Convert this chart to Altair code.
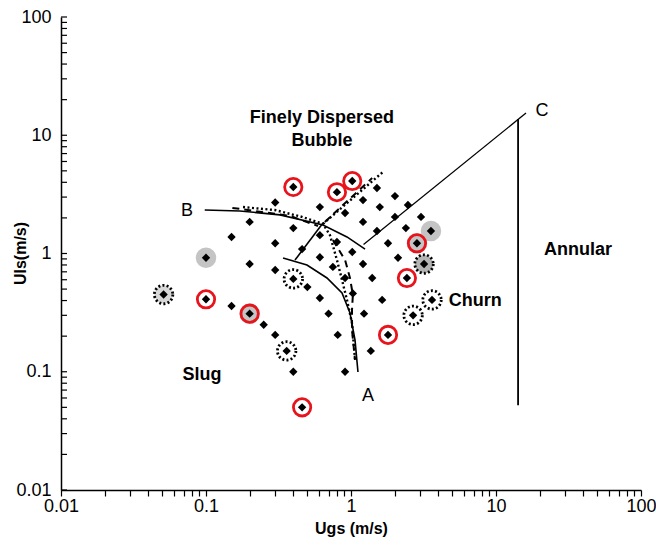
import altair as alt
import pandas as pd

# ---- measured points (Ugs, Uls) in m/s ----
pt_x = [0.10, 0.051, 0.10, 0.15, 0.20, 0.25, 0.30, 0.36, 0.40, 0.46,
        0.30, 0.40, 0.20, 0.15, 0.40, 0.30, 0.20, 0.30, 0.46, 0.40,
        0.50, 0.61, 0.61, 0.80, 1.02, 0.91, 0.61, 0.80, 0.61, 0.75,
        0.91, 0.70, 0.81, 0.91, 1.51, 2.01, 1.21, 1.58, 2.47, 2.01,
        1.21, 1.51, 2.39, 3.04, 3.56, 2.85, 1.80, 1.02, 1.21, 2.11,
        3.19, 1.40, 2.43, 1.03, 1.64, 1.23, 1.37, 1.80, 3.62, 2.68]
pt_y = [0.92, 0.45, 0.41, 0.36, 0.31, 0.25, 0.205, 0.15, 0.10, 0.05,
        2.7, 3.65, 1.85, 1.38, 1.64, 1.22, 0.815, 0.725, 1.09, 0.61,
        0.52, 0.42, 2.47, 3.3, 4.1, 2.2, 1.43, 1.25, 0.93, 0.77,
        0.62, 0.31, 0.205, 0.10, 3.58, 3.06, 2.83, 2.47, 2.57, 2.04,
        1.85, 1.55, 1.64, 2.04, 1.55, 1.22, 1.22, 1.03, 0.815, 0.92,
        0.815, 0.62, 0.62, 0.46, 0.405, 0.31, 0.15, 0.205, 0.405, 0.30]

red_x = [0.10, 0.20, 0.46, 0.40, 0.80, 1.02, 2.85, 2.43, 1.80]
red_y = [0.41, 0.31, 0.05, 3.65, 3.3, 4.1, 1.22, 0.62, 0.205]

gray_x = [0.10, 0.20, 3.56, 2.85]
gray_y = [0.92, 0.31, 1.55, 1.22]

ring_x = [0.051, 0.36, 0.40, 3.19, 3.62, 2.68]
ring_y = [0.45, 0.15, 0.61, 0.815, 0.405, 0.30]
ring_fill = ["#d8d8d8", "white", "white", "#b4b4b4", "white", "white"]

# ---- transition boundaries ----
solid_b_x = [0.098, 0.171, 0.324, 0.641, 0.938, 1.25]
solid_b_y = [2.33, 2.29, 2.12, 1.74, 1.38, 1.09]
solid_a_x = [0.340, 0.497, 0.683, 0.867, 0.984, 1.066, 1.117]
solid_a_y = [0.916, 0.80, 0.621, 0.463, 0.314, 0.185, 0.0995]
link_x = [0.411, 0.641]
link_y = [0.88, 1.81]
c_line_x = [1.22, 16.1]
c_line_y = [1.19, 15.4]
annular_x = [14.2, 14.2]
annular_y = [0.052, 13.7]

dotted1_x = [0.180, 0.299, 0.459, 0.641, 0.716, 0.80, 0.867, 0.938, 1.016, 1.066]
dotted1_y = [2.47, 2.33, 2.04, 1.78, 1.43, 0.88, 0.597, 0.405, 0.258, 0.126]
dotted2_x = [0.641, 1.66]
dotted2_y = [1.78, 4.89]

dashed1_x = [0.152, 0.379, 0.592]
dashed1_y = [2.43, 2.08, 1.71]
dashed2_x = [0.66, 1.40]
dashed2_y = [1.85, 4.35]
dashed3_x = [0.75, 0.91, 0.984, 1.03, 1.016, 1.016, 1.066]
dashed3_y = [1.30, 0.88, 0.621, 0.446, 0.333, 0.225, 0.126]

# ---- labels ----
bold_text = ["Finely Dispersed", "Bubble", "Slug", "Churn", "Annular"]
bold_x = [0.63, 0.63, 0.094, 7.2, 36.8]
bold_y = [14.0, 8.9, 0.094, 0.40, 1.07]
letter_text = ["A", "B", "C"]
letter_x = [1.31, 0.074, 20.8]
letter_y = [0.0624, 2.30, 16.0]

major_ticks = [0.01, 0.1, 1, 10, 100]
minor_ticks = [m * d for d in [0.01, 0.1, 1, 10] for m in range(2, 10)]

FONT = "Liberation Sans"
W, H = 580, 473

xs = alt.Scale(type="log", domain=[0.01, 100], nice=False)
ys = alt.Scale(type="log", domain=[0.01, 100], nice=False)

x_axis = alt.Axis(values=major_ticks + minor_ticks, tickSize=6, tickColor="black",
                  tickWidth=1.2,
                  labelExpr="abs(log(datum.value)/LN10 - round(log(datum.value)/LN10)) < 1e-6 ? format(datum.value, '~g') : ''",
                  labelFlush=False, labelOverlap=False, labelPadding=1,
                  title="Ugs (m/s)", titleFontSize=16, titleFontWeight="bold",
                  titlePadding=5)
y_axis = alt.Axis(values=major_ticks, tickSize=0,
                  labelExpr="format(datum.value, '~g')",
                  labelFlush=False, labelOverlap=False, labelPadding=10,
                  title="Uls(m/s)", titleFontSize=16, titleFontWeight="bold",
                  titleX=-41, titleY=236, titleBaseline="middle", titleAngle=270)


def X(**kw):
    return alt.X("x:Q", scale=xs, axis=x_axis, **kw)


def Y(**kw):
    return alt.Y("y:Q", scale=ys, axis=y_axis, **kw)


def line_df(xv, yv):
    return pd.DataFrame({"x": xv, "y": yv, "i": list(range(len(xv)))})


def line_layer(xv, yv, width=1.5, dash=None):
    kw = dict(color="black", strokeWidth=width, clip=True)
    if dash is not None:
        kw["strokeDash"] = dash
    return alt.Chart(line_df(xv, yv)).mark_line(**kw).encode(
        x=X(), y=Y(), order="i:Q")


# y-axis inward ticks
ytick_df = pd.DataFrame({"y": major_ticks + minor_ticks})
yticks = alt.Chart(ytick_df).mark_rule(color="black", strokeWidth=1.2).encode(
    y=Y(), x=alt.value(0), x2=alt.value(6))

lines = [
    line_layer(solid_b_x, solid_b_y, 1.6),
    line_layer(solid_a_x, solid_a_y, 1.6),
    line_layer(link_x, link_y, 1.6),
    line_layer(c_line_x, c_line_y, 1.3),
    line_layer(annular_x, annular_y, 1.8),
    line_layer(dotted1_x, dotted1_y, 2.4, [2, 2.5]),
    line_layer(dotted2_x, dotted2_y, 2.4, [2, 2.5]),
    line_layer(dashed1_x, dashed1_y, 2.0, [7, 5]),
    line_layer(dashed2_x, dashed2_y, 2.0, [7, 5]),
    line_layer(dashed3_x, dashed3_y, 2.0, [7, 5]),
]

gray_layer = alt.Chart(pd.DataFrame({"x": gray_x, "y": gray_y})).mark_point(
    shape="circle", filled=True, color="#c4c4c4", size=420, opacity=1
).encode(x=X(), y=Y())

ring_layer = alt.Chart(pd.DataFrame({"x": ring_x, "y": ring_y, "f": ring_fill})).mark_point(
    shape="circle", filled=False, stroke="black", strokeWidth=2.8,
    strokeDash=[2, 2.2], size=340, opacity=1
).encode(x=X(), y=Y(), fill=alt.Fill("f:N", scale=None))

red_layer = alt.Chart(pd.DataFrame({"x": red_x, "y": red_y})).mark_point(
    shape="circle", filled=False, stroke="#e8141c", strokeWidth=2.8, size=300, opacity=1
).encode(x=X(), y=Y())

diamonds = alt.Chart(pd.DataFrame({"x": pt_x, "y": pt_y})).mark_point(
    shape="diamond", filled=True, color="black", size=70, opacity=1
).encode(x=X(), y=Y())

bold_labels = alt.Chart(pd.DataFrame({"x": bold_x, "y": bold_y, "t": bold_text})).mark_text(
    font=FONT, fontSize=18, fontWeight="bold", color="black", align="center", baseline="middle"
).encode(x=X(), y=Y(), text="t:N")

letter_labels = alt.Chart(pd.DataFrame({"x": letter_x, "y": letter_y, "t": letter_text})).mark_text(
    font=FONT, fontSize=18, color="black", align="center", baseline="middle"
).encode(x=X(), y=Y(), text="t:N")

chart = alt.layer(
    yticks, *lines, gray_layer, ring_layer, red_layer, diamonds, bold_labels, letter_labels
).properties(
    width=W, height=H,
    autosize=alt.AutoSizeParams(type="none"),
    padding={"left": 61, "top": 17, "right": 15, "bottom": 55},
    background="white",
).configure_view(stroke=None).configure_axis(
    domainColor="black", domainWidth=1.5, grid=False,
    labelFont=FONT, labelFontSize=18, labelColor="black",
    titleFont=FONT, titleColor="black",
)

chart.save("out.html", embed_options={"renderer": "svg", "actions": False})
